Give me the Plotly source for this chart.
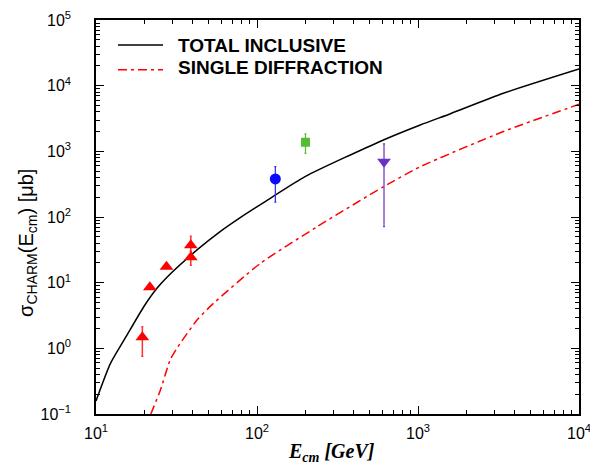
import plotly.graph_objects as go

# ---- data ----
total_E = [10, 12.3, 15.6, 19.8, 23.9, 27.5, 42.4, 59, 78.7, 115, 200, 610, 1033, 1590, 3390, 10000]
total_sigma = [0.158, 0.59, 1.6, 4.3, 8.2, 12, 31.5, 60, 98, 178, 415, 1490, 2520, 3740, 7650, 17900]

sd_E = [21.9, 25.1, 28.9, 31.8, 42.4, 53.7, 105, 236, 612, 1033, 3390, 10000]
sd_sigma = [0.1, 0.23, 0.67, 1.0, 2.7, 4.85, 19.7, 71, 290, 583, 2000, 5200]

fixed_E = [19.4, 21.6, 27.4, 38.8, 38.8]
fixed_sigma = [1.47, 8.5, 17.5, 37, 24.3]
fixed_hi = [2.14, 8.5, 17.5, 51, 30]
fixed_lo = [0.76, 8.5, 17.5, 30, 18.4]

blue_E = [130]
blue_sigma = [380]
blue_hi = [583]
blue_lo = [168]

green_E = [200]
green_sigma = [1375]
green_hi = [1840]
green_lo = [934]

purple_E = [615]
purple_sigma = [695]
purple_hi = [1295]
purple_lo = [71]

x_tickvals = [10, 100, 1000, 10000]
x_ticktext = ["10<sup>1</sup>", "10<sup>2</sup>", "10<sup>3</sup>", "10<sup>4</sup>"]
y_tickvals = [0.1, 1, 10, 100, 1000, 10000, 100000]
y_ticktext = ["10<sup>−1</sup>", "10<sup>0</sup>", "10<sup>1</sup>", "10<sup>2</sup>",
              "10<sup>3</sup>", "10<sup>4</sup>", "10<sup>5</sup>"]

legend_labels = ["TOTAL INCLUSIVE", "SINGLE DIFFRACTION"]

RED = "#ff0000"
RED_DASH = "9px,4px,3px,4px"


def err(vals, hi, lo):
    up = [h - v for v, h in zip(vals, hi)]
    dn = [v - l for v, l in zip(vals, lo)]
    return up, dn


def minor_vals(decades):
    return [m * 10 ** d for d in decades for m in range(2, 10)]


fig = go.Figure()

fig.add_trace(go.Scatter(x=total_E, y=total_sigma, mode="lines",
                         line=dict(color="black", width=1.5, shape="spline", smoothing=0.6),
                         showlegend=False))
fig.add_trace(go.Scatter(x=sd_E, y=sd_sigma, mode="lines",
                         line=dict(color=RED, width=1.5, dash=RED_DASH, shape="spline", smoothing=0.6),
                         showlegend=False))

up, dn = err(fixed_sigma, fixed_hi, fixed_lo)
fig.add_trace(go.Scatter(x=fixed_E, y=fixed_sigma, mode="markers",
                         marker=dict(symbol="triangle-up", size=12, color=RED),
                         error_y=dict(type="data", symmetric=False, array=up, arrayminus=dn,
                                      color="#ff3030", thickness=1.5, width=1),
                         showlegend=False))
up, dn = err(blue_sigma, blue_hi, blue_lo)
fig.add_trace(go.Scatter(x=blue_E, y=blue_sigma, mode="markers",
                         marker=dict(symbol="circle", size=11, color="#0a0aff"),
                         error_y=dict(type="data", symmetric=False, array=up, arrayminus=dn,
                                      color="#2a2aff", thickness=1.2, width=1),
                         showlegend=False))
up, dn = err(green_sigma, green_hi, green_lo)
fig.add_trace(go.Scatter(x=green_E, y=green_sigma, mode="markers",
                         marker=dict(symbol="square", size=9, color="#55bb33"),
                         error_y=dict(type="data", symmetric=False, array=up, arrayminus=dn,
                                      color="#55bb33", thickness=1.2, width=1),
                         showlegend=False))
up, dn = err(purple_sigma, purple_hi, purple_lo)
fig.add_trace(go.Scatter(x=purple_E, y=purple_sigma, mode="markers",
                         marker=dict(symbol="triangle-down", size=12, color="#6a30c8"),
                         error_y=dict(type="data", symmetric=False, array=up, arrayminus=dn,
                                      color="#6a30c8", thickness=1.2, width=1),
                         showlegend=False))

# legend (drawn manually)
fig.add_shape(type="line", xref="paper", yref="paper", x0=0.0455, x1=0.1387, y0=0.9365, y1=0.9365,
              line=dict(color="black", width=1.5))
fig.add_shape(type="line", xref="paper", yref="paper", x0=0.0455, x1=0.1387, y0=0.8739, y1=0.8739,
              line=dict(color=RED, width=1.5, dash=RED_DASH))
for lbl, yy in zip(legend_labels, [0.9365, 0.8790]):
    fig.add_annotation(text="<b>" + lbl + "</b>", xref="paper", yref="paper", x=0.1656, y=yy,
                       xanchor="left", yanchor="middle", showarrow=False,
                       font=dict(family="Arial, Liberation Sans", size=19, color="black"))

# axis titles
fig.add_annotation(text="σ<sub>CHARM</sub>(E<sub>cm</sub>) [μb]", xref="paper", yref="paper",
                   x=-0.143, y=0.434, xanchor="center", yanchor="middle", textangle=-90,
                   showarrow=False, font=dict(family="Arial, Liberation Sans", size=20, color="black"))
fig.add_annotation(text="<b><i>E<sub>cm</sub> [GeV]</i></b>", xref="paper", yref="paper",
                   x=0.4886, y=-0.098, xanchor="center", yanchor="middle",
                   showarrow=False, font=dict(family="Liberation Serif, Times New Roman", size=20, color="black"))

axis_common = dict(type="log", showline=True, linecolor="black", linewidth=1.5, mirror="allticks",
                   ticks="inside", ticklen=8, tickwidth=1, tickcolor="black", showgrid=False,
                   zeroline=False, tickmode="array", automargin=False,
                   tickfont=dict(family="Arial, Liberation Sans", size=16, color="black"))

fig.update_xaxes(range=[1, 4], tickvals=x_tickvals, ticktext=x_ticktext, ticklabelstandoff=4,
                 minor=dict(ticks="inside", ticklen=4, tickwidth=1, tickcolor="black",
                            tickmode="array", tickvals=minor_vals(range(1, 4)), showgrid=False),
                 **axis_common)
fig.update_yaxes(range=[-1, 5], tickvals=y_tickvals, ticktext=y_ticktext, ticklabelstandoff=20,
                 minor=dict(ticks="inside", ticklen=4, tickwidth=1, tickcolor="black",
                            tickmode="array", tickvals=minor_vals(range(-1, 5)), showgrid=False),
                 **axis_common)

# the page body adds an 8px offset, so margins are shifted to keep the plot area in place
fig.update_layout(width=598, height=468, margin=dict(l=88, r=27, t=12, b=62),
                  plot_bgcolor="white", paper_bgcolor="white", showlegend=False)

fig.write_html("out.html")
